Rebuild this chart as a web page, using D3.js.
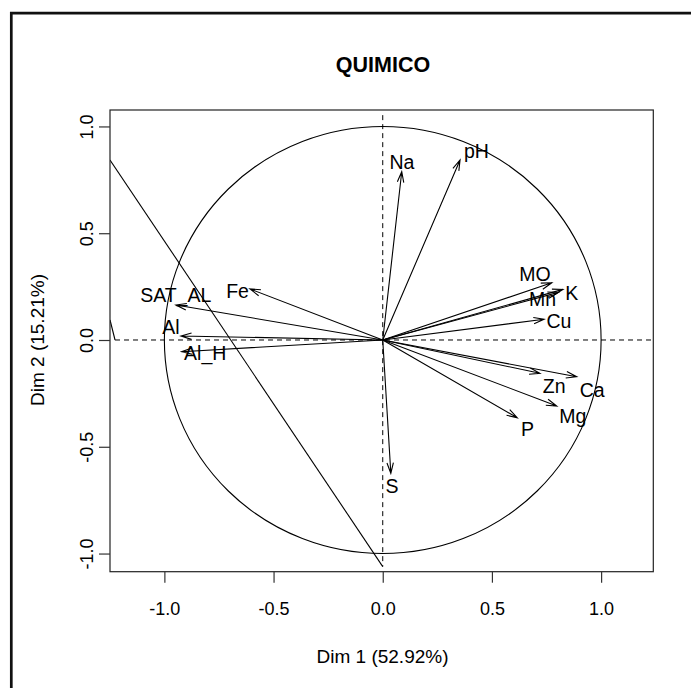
<!DOCTYPE html>
<html>
<head>
<meta charset="utf-8">
<script src="https://cdn.jsdelivr.net/npm/d3@7"></script>
<style>
  html, body { margin: 0; padding: 0; background: #fff; }
  svg { display: block; }
  text { font-family: "Liberation Sans", Arial, Helvetica, sans-serif; fill: #000; }
</style>
</head>
<body>
<script>
// Variables factor map: coordinates of each variable on Dim 1 / Dim 2
const variables = ["Na", "pH", "MO", "K", "Mn", "Cu", "Zn", "Ca", "Mg", "P", "S", "Fe", "SAT_AL", "Al", "Al_H"];
const dim1 = [0.087, 0.354, 0.774, 0.825, 0.804, 0.739, 0.720, 0.888, 0.797, 0.616, 0.037, -0.608, -0.947, -0.924, -0.921];
const dim2 = [0.788, 0.843, 0.268, 0.237, 0.223, 0.097, -0.156, -0.172, -0.309, -0.364, -0.624, 0.239, 0.164, 0.019, -0.055];

// Where each variable name sits (text centre, baseline), in Dim units
const labelDim1 = [0.088, 0.429, 0.697, 0.866, 0.732, 0.807, 0.785, 0.959, 0.870, 0.663, 0.042, -0.665, -0.948, -0.970, -0.813];
const labelDim2 = [0.799, 0.851, 0.278, 0.187, 0.159, 0.055, -0.250, -0.265, -0.387, -0.449, -0.718, 0.195, 0.176, 0.028, -0.094];

// Axis ticks and titles
const xTicks = [-1.0, -0.5, 0.0, 0.5, 1.0];
const yTicks = [-1.0, -0.5, 0.0, 0.5, 1.0];
const xDomain = [-1.249, 1.239];
const yDomain = [-1.085, 1.077];
const titleText = "QUIMICO";
const xTitle = "Dim 1 (52.92%)";
const yTitle = "Dim 2 (15.21%)";

// Extra straight strokes drawn in the panel (Dim units)
const strokeA = [[-1.249, 0.843], [0, -1.061]];
const strokeB = [[-1.249, 0.094], [-1.226, 0.0]];
// Extent of the dashed reference lines
const hRefExtent = [-1.226, 1.239];
const vRefExtent = [1.053, -1.061];

const W = 691, H = 688;
const box = { left: 110, right: 653.3, top: 110, bottom: 571.7 };

const svg = d3.select("body").append("svg")
  .attr("width", W).attr("height", H);

// outer frame (top and left edges)
svg.append("path")
  .attr("d", `M11.3,${H} V13.2 H${W}`)
  .attr("fill", "none").attr("stroke", "#111").attr("stroke-width", 2.7);

const x = d3.scaleLinear().domain(xDomain).range([box.left, box.right]);
const y = d3.scaleLinear().domain(yDomain).range([box.bottom, box.top]);

const fmt = d => d.toFixed(1);

// title
svg.append("text")
  .attr("x", 383).attr("y", 72)
  .attr("text-anchor", "middle")
  .style("font-weight", "bold").style("font-size", "21.5px")
  .text(titleText);

// clip to panel
svg.append("clipPath").attr("id", "panel")
  .append("rect")
  .attr("x", box.left).attr("y", box.top)
  .attr("width", box.right - box.left).attr("height", box.bottom - box.top);

const g = svg.append("g").attr("clip-path", "url(#panel)");

// unit correlation circle
g.append("ellipse")
  .attr("cx", x(0)).attr("cy", y(0))
  .attr("rx", x(1) - x(0)).attr("ry", y(0) - y(1))
  .attr("fill", "none").attr("stroke", "#000").attr("stroke-width", 1.1);

// dashed reference lines
g.append("line")
  .attr("x1", x(hRefExtent[0])).attr("x2", x(hRefExtent[1]))
  .attr("y1", y(0)).attr("y2", y(0))
  .attr("stroke", "#000").attr("stroke-width", 1).attr("stroke-dasharray", "5,4");
g.append("line")
  .attr("x1", x(0)).attr("x2", x(0))
  .attr("y1", y(vRefExtent[0])).attr("y2", y(vRefExtent[1]))
  .attr("stroke", "#000").attr("stroke-width", 1).attr("stroke-dasharray", "5,4");

// extra strokes
const segLine = d3.line().x(d => x(d[0])).y(d => y(d[1]));
[strokeA, strokeB].forEach(s => {
  g.append("path").attr("d", segLine(s))
    .attr("fill", "none").attr("stroke", "#000").attr("stroke-width", 1.1);
});

// variable arrows
const headLen = 11, headAng = 17 * Math.PI / 180;
variables.forEach((v, i) => {
  const x0 = x(0), y0 = y(0);
  const x1 = x(dim1[i]), y1 = y(dim2[i]);
  const a = Math.atan2(y1 - y0, x1 - x0);
  const hx1 = x1 - headLen * Math.cos(a - headAng), hy1 = y1 - headLen * Math.sin(a - headAng);
  const hx2 = x1 - headLen * Math.cos(a + headAng), hy2 = y1 - headLen * Math.sin(a + headAng);
  g.append("path")
    .attr("d", `M${x0},${y0}L${x1},${y1}M${hx1},${hy1}L${x1},${y1}L${hx2},${hy2}`)
    .attr("fill", "none").attr("stroke", "#000").attr("stroke-width", 1.1);
});

// variable names
svg.append("g").selectAll("text")
  .data(variables)
  .join("text")
  .attr("x", (d, i) => x(labelDim1[i]))
  .attr("y", (d, i) => y(labelDim2[i]))
  .attr("text-anchor", "middle")
  .style("font-size", "19.5px")
  .text(d => d);

// panel box
svg.append("rect")
  .attr("x", box.left).attr("y", box.top)
  .attr("width", box.right - box.left).attr("height", box.bottom - box.top)
  .attr("fill", "none").attr("stroke", "#222").attr("stroke-width", 1.2);

// x axis
const gx = svg.append("g")
  .attr("transform", `translate(0,${box.bottom})`)
  .call(d3.axisBottom(x).tickValues(xTicks).tickSize(11).tickFormat(fmt));
gx.select(".domain").remove();
gx.selectAll(".tick line").attr("stroke", "#333").attr("stroke-width", 1.2);
gx.selectAll(".tick text")
  .attr("y", 43.3).attr("dy", null)
  .style("font-size", "18px").style("font-family", "'Liberation Sans', Arial, sans-serif").attr("fill", "#000");

// y axis
const gy = svg.append("g")
  .attr("transform", `translate(${box.left},0)`)
  .call(d3.axisLeft(y).tickValues(yTicks).tickSize(11).tickFormat(fmt));
gy.select(".domain").remove();
gy.selectAll(".tick line").attr("stroke", "#333").attr("stroke-width", 1.2);
gy.selectAll(".tick text")
  .attr("x", null).attr("dy", null)
  .attr("text-anchor", "middle")
  .attr("transform", "translate(-17.5,0) rotate(-90)")
  .style("font-size", "18px").style("font-family", "'Liberation Sans', Arial, sans-serif").attr("fill", "#000");

// axis titles
svg.append("text")
  .attr("x", 382.5).attr("y", 662.7)
  .attr("text-anchor", "middle")
  .style("font-size", "19px")
  .text(xTitle);
svg.append("text")
  .attr("transform", `translate(44,${y(0)}) rotate(-90)`)
  .attr("text-anchor", "middle")
  .style("font-size", "19px")
  .text(yTitle);
</script>
</body>
</html>
